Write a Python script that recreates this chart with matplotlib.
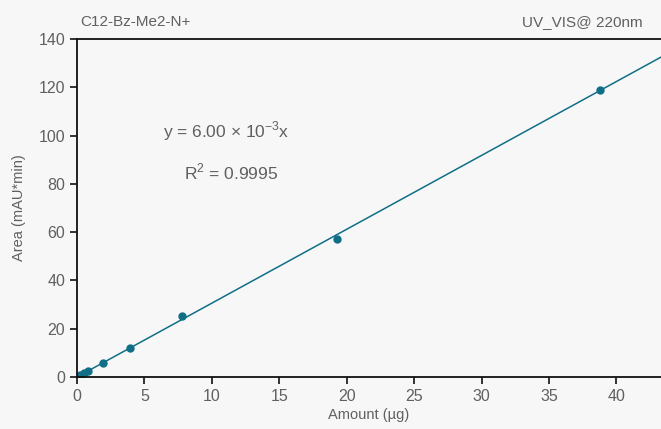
import matplotlib.pyplot as plt
import numpy as np

# calibration data
amount = [0.0, 0.24, 0.49, 0.78, 1.94, 3.9, 7.8, 19.3, 38.8]
area = [0.0, 0.8, 1.6, 2.5, 6.0, 12.0, 25.2, 57.2, 118.8]
slope = 3.06
fit_label = 'y = 6.00 × 10$^{-3}$x'
r2_label = 'R$^2$ = 0.9995'

plt.rcParams['font.family'] = ['Liberation Sans', 'DejaVu Sans']
plt.rcParams['mathtext.fontset'] = 'custom'
plt.rcParams['mathtext.rm'] = 'Liberation Sans'
bg = '#f7f7f7'
txt = '#606060'
teal = '#0f6f87'

fig = plt.figure(figsize=(6.61, 4.29), dpi=100, facecolor=bg)
ax = fig.add_axes([0.1165, 0.1212, 0.8835, 0.7879])
ax.set_facecolor(bg)

xs = np.array([0, 44])
ax.plot(xs, slope * xs, color=teal, lw=1.1)
ax.plot(amount, area, 'o', color=teal, ms=5)

ax.set_xlim(0, 43.3)
ax.set_ylim(0, 140)
ax.set_xticks(range(0, 45, 5))
ax.set_yticks(range(0, 141, 20))
ax.spines['right'].set_visible(False)
for s in ['top', 'left', 'bottom']:
    ax.spines[s].set_linewidth(1.3)
    ax.spines[s].set_color('#111111')
ax.tick_params(direction='out', length=5, width=1.2, color='#111111',
               labelsize=11.5, labelcolor=txt)

ax.set_xlabel('Amount (µg)', fontsize=10.5, color=txt, labelpad=3)
ax.set_ylabel('Area (mAU*min)', fontsize=10.5, color=txt, labelpad=9)

ax.text(11.1, 102, fit_label, fontsize=12.5, color=txt, ha='center', va='center')
ax.text(11.4, 85, r2_label, fontsize=12.5, color=txt, ha='center', va='center')

fig.text(80 / 661, 1 - 22 / 429, 'C12-Bz-Me2-N+', fontsize=11, color=txt,
         ha='left', va='center')
fig.text(643 / 661, 1 - 22 / 429, 'UV_VIS@ 220nm', fontsize=11, color=txt,
         ha='right', va='center')

fig.savefig('out.png', dpi=100, facecolor=bg)
